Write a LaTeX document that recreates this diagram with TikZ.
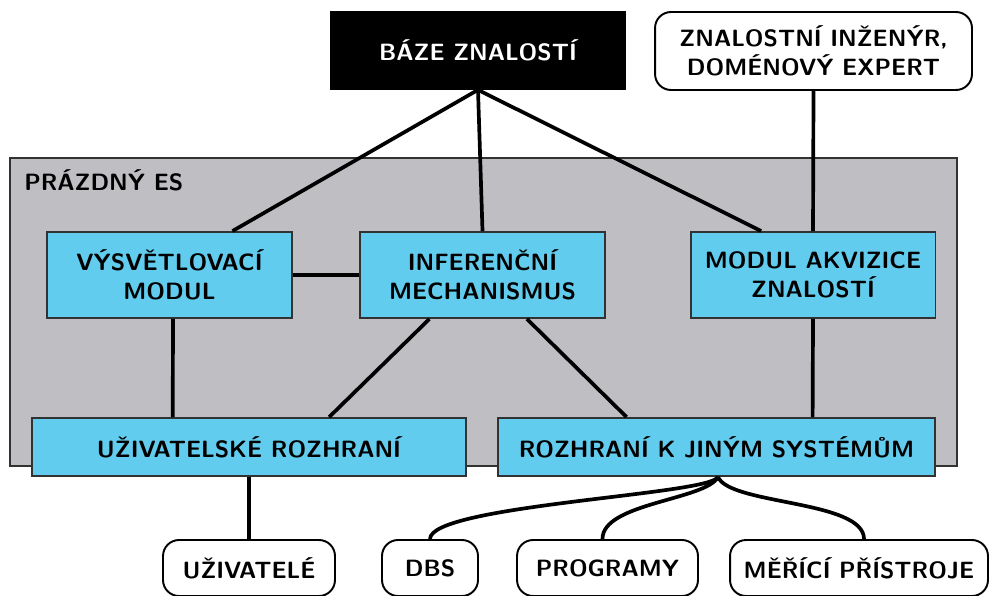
\documentclass[tikz,border=0pt]{standalone}
\usepackage{fontspec}
\usetikzlibrary{calc}
\definecolor{esgray}{RGB}{190,190,195}
\definecolor{esborder}{RGB}{50,50,50}
\definecolor{modblue}{RGB}{98,204,238}
\tikzset{
  txt/.style={font=\sffamily\bfseries\fontsize{13.4}{16.5}\selectfont, align=center, inner sep=0pt},
  blackbox/.style={txt, fill=black, text=white, draw=black, line width=1pt},
  roundbox/.style={txt, fill=white, draw=black, line width=1.1pt, rounded corners=0.32cm},
  esbox/.style={fill=esgray, draw=esborder, line width=1.1pt, inner sep=0pt},
  bluebox/.style={txt, fill=modblue, draw=esborder, line width=1.1pt},
  conn/.style={line width=2.1pt, black},
}
\begin{document}
\begin{tikzpicture}[x=0.02cm, y=-0.02cm]
\clip (0,0) rectangle (989,595);
\fill[white] (0,0) rectangle (989,595);
% knowledge base and expert
\node[blackbox, minimum width=5.88cm, minimum height=1.54cm] (baze) at (478,50.5) {BÁZE ZNALOSTÍ};
\node[roundbox, minimum width=6.34cm, minimum height=1.56cm] (expert) at (813.5,51) {ZNALOSTNÍ INŽENÝR,\\DOMÉNOVÝ EXPERT};
% empty expert system
\node[esbox, minimum width=18.94cm, minimum height=6.16cm] (es) at (483.5,312) {};
\node[txt, anchor=base west] (eslabel) at (24,190) {PRÁZDNÝ ES};
% modules
\node[bluebox, minimum width=4.9cm, minimum height=1.72cm] (vysv) at (169.5,275) {VÝSVĚTLOVACÍ\\MODUL};
\node[bluebox, minimum width=4.9cm, minimum height=1.72cm] (inf) at (482.5,275) {INFERENČNÍ\\MECHANISMUS};
\node[bluebox, minimum width=4.9cm, minimum height=1.72cm] (akv) at (813,275) {MODUL AKVIZICE\\ZNALOSTÍ};
\node[bluebox, minimum width=8.68cm, minimum height=1.16cm] (uziv) at (249,447) {UŽIVATELSKÉ ROZHRANÍ};
\node[bluebox, minimum width=8.74cm, minimum height=1.16cm] (rozh) at (716.5,447) {ROZHRANÍ K JINÝM SYSTÉMŮM};
% outside entities
\node[roundbox, minimum width=3.44cm, minimum height=1.12cm] (users) at (249,568) {UŽIVATELÉ};
\node[roundbox, minimum width=1.92cm, minimum height=1.12cm] (dbs) at (430,568) {DBS};
\node[roundbox, minimum width=3.62cm, minimum height=1.12cm] (prog) at (607.5,568) {PROGRAMY};
\node[roundbox, minimum width=5.16cm, minimum height=1.12cm] (meri) at (859,568) {MĚŘÍCÍ PŘÍSTROJE};
% connectors
\draw[conn] (baze.south) -- ($(vysv.north west)!0.755!(vysv.north east)$);
\draw[conn] (baze.south) -- (inf.north);
\draw[conn] (baze.south) -- ($(akv.north west)!0.29!(akv.north east)$);
\draw[conn] (expert.south) -- (akv.north);
\draw[conn] (vysv.east) -- (inf.west);
\draw[conn] ($(vysv.south)+(3.5,0)$) -- ($(uziv.north west)!0.325!(uziv.north east)$);
\draw[conn] ($(inf.south west)!0.285!(inf.south east)$) -- ($(uziv.north west)!0.684!(uziv.north east)$);
\draw[conn] ($(inf.south west)!0.68!(inf.south east)$) -- ($(rozh.north west)!0.295!(rozh.north east)$);
\draw[conn] (akv.south) -- ($(rozh.north west)!0.719!(rozh.north east)$);
\draw[conn] (uziv.south) -- (users.north);
\coordinate (fork) at ($(rozh.south)+(1.5,0)$);
\draw[conn] (fork) .. controls (710,495) and (430,505) .. (dbs.north);
\draw[conn] (fork) .. controls (706,500) and (602,503) .. ($(prog.north)+(-5,0)$);
\draw[conn] (fork) .. controls (730,505) and (864,500) .. ($(meri.north)+(5,0)$);
\end{tikzpicture}
\end{document}
